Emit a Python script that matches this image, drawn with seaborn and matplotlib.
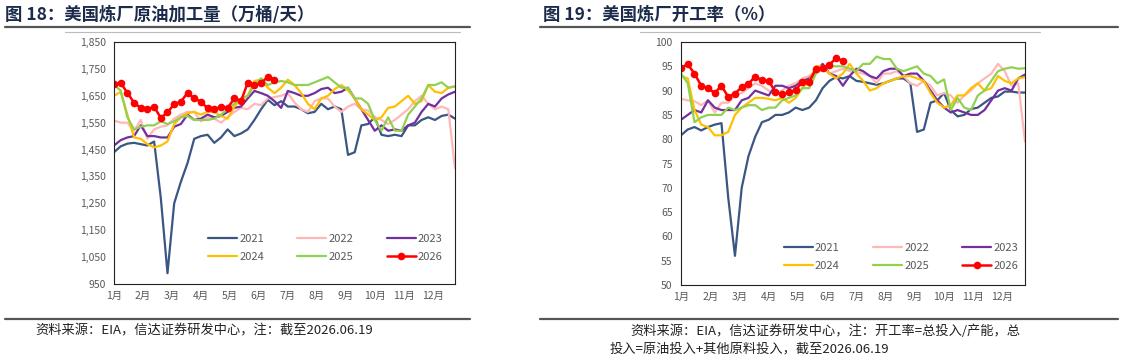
import matplotlib.pyplot as plt
import matplotlib.lines as mlines
import numpy as np
import pandas as pd
import seaborn as sns

# weekly data, week index 0..51
years = ["2021", "2022", "2023", "2024", "2025", "2026"]
colors = {"2021": "#3A5683", "2022": "#FFB7B7", "2023": "#7030A0",
          "2024": "#FFC000", "2025": "#92D050", "2026": "#FF0000"}
months = ["1月", "2月", "3月", "4月", "5月", "6月", "7月", "8月", "9月", "10月", "11月", "12月"]

# crude runs (10k bbl/d)
runs_2021 = [1440, 1462, 1472, 1475, 1470, 1465, 1480, 1270, 990, 1250, 1330, 1400, 1490, 1500, 1505, 1475, 1495, 1525,
             1500, 1510, 1525, 1560, 1600, 1635, 1615, 1630, 1610, 1610, 1600, 1585, 1590, 1620, 1600, 1610, 1600, 1430,
             1440, 1540, 1545, 1570, 1505, 1500, 1505, 1500, 1540, 1540, 1560, 1570, 1560, 1575, 1580, 1565]
runs_2022 = [1558, 1550, 1550, 1520, 1560, 1490, 1525, 1535, 1540, 1565, 1580, 1590, 1590, 1555, 1570, 1565, 1550, 1570,
             1590, 1605, 1600, 1620, 1615, 1640, 1645, 1650, 1660, 1625, 1600, 1590, 1630, 1640, 1640, 1610, 1590, 1610,
             1620, 1600, 1595, 1570, 1560, 1545, 1560, 1580, 1600, 1630, 1650, 1620, 1600, 1610, 1600, 1380]
runs_2023 = [1465, 1485, 1495, 1500, 1540, 1500, 1500, 1495, 1495, 1535, 1545, 1580, 1560, 1565, 1580, 1570, 1575, 1590,
             1605, 1610, 1640, 1668, 1660, 1650, 1630, 1605, 1668, 1660, 1650, 1650, 1660, 1675, 1680, 1660, 1665, 1680,
             1640, 1600, 1560, 1520, 1540, 1520, 1525, 1520, 1540, 1550, 1590, 1620, 1610, 1640, 1655, 1665]
runs_2024 = [1650, 1665, 1580, 1495, 1490, 1470, 1458, 1465, 1480, 1545, 1570, 1585, 1590, 1580, 1590, 1590, 1575, 1565,
             1610, 1635, 1650, 1705, 1710, 1680, 1660, 1680, 1710, 1690, 1660, 1620, 1600, 1640, 1650, 1675, 1690, 1670,
             1640, 1600, 1580, 1560, 1570, 1605, 1610, 1630, 1650, 1620, 1630, 1690, 1665, 1660, 1680, 1685]
runs_2025 = [1690, 1670, 1570, 1525, 1535, 1540, 1540, 1555, 1545, 1555, 1570, 1575, 1560, 1560, 1560, 1565, 1580, 1600,
             1620, 1640, 1650, 1690, 1715, 1690, 1700, 1705, 1700, 1690, 1690, 1690, 1700, 1710, 1720, 1700, 1680, 1680,
             1640, 1640, 1620, 1560, 1520, 1570, 1520, 1520, 1580, 1610, 1640, 1690, 1690, 1700, 1680, 1685]
runs_2026 = [1692, 1698, 1661, 1624, 1605, 1600, 1609, 1568, 1588, 1619, 1628, 1661, 1640, 1628, 1603, 1600, 1609, 1605,
             1640, 1631, 1698, 1689, 1698, 1720, 1710]

# utilization (%)
util_2021 = [80.8, 82, 82.5, 81.8, 82.5, 83, 83.3, 68, 56, 70, 76.5, 80.5, 83.5, 84, 85, 85, 85.5, 86.5, 86, 86.5, 88,
             90.5, 92, 92.8, 92.5, 93, 92, 91.8, 91.5, 91.2, 91.5, 92, 92.5, 92.5, 91.5, 81.5, 82, 87.5, 88, 89.5, 86,
             84.7, 85, 86.2, 86.5, 87.5, 88.5, 88.8, 89.8, 89.8, 89.6, 89.6]
util_2022 = [88.3, 88, 87.8, 87, 88, 85.5, 87.5, 87.5, 89, 89.5, 90.5, 91.5, 91, 90, 89.5, 90, 91, 91.5, 92.5, 93, 94,
             94.5, 93.5, 94, 94.5, 94, 93.8, 93.5, 93, 91.5, 93.5, 93.5, 94, 93, 91.5, 91, 92, 91, 89, 89.5, 89, 87.5,
             89, 90, 91.5, 92.5, 93.5, 95.5, 94, 91, 91.5, 79.5]
util_2023 = [84, 85, 86, 85.5, 88, 86.5, 86, 86, 86, 88, 88.5, 90, 89.5, 89, 91, 91, 90.5, 91, 92, 92.5, 94, 95.5, 93.5,
             93, 91, 93, 94.5, 94, 93, 92.5, 94, 94.5, 94.5, 93, 93.5, 93.5, 92, 90, 88, 86.5, 85.5, 86, 85.5, 85, 85,
             86, 88, 90, 90.5, 90, 92.5, 93.3]
util_2024 = [93, 92.5, 86, 83, 82.5, 80.8, 80.8, 81.5, 85, 86.5, 87.5, 88.5, 88.5, 88.3, 88, 88.5, 87.5, 88.5, 90.5, 92,
             95, 95, 93.5, 92.5, 93.5, 95.5, 93.5, 92, 90, 90.5, 91.5, 92, 92.5, 93, 93, 92.5, 92, 89.5, 87.5, 86.5, 87,
             89, 89, 90.5, 91.5, 90, 90.5, 93, 92, 91.5, 92.5, 92.8]
util_2025 = [93.5, 91.5, 83.5, 84.5, 85, 85, 85, 86.5, 86, 86.5, 87, 87, 86, 86.5, 86.5, 88, 88.5, 89, 90.5, 90.5, 93.5,
             94.5, 95, 95, 95, 94.5, 94, 95.5, 95.5, 97, 96.5, 96.5, 94.5, 94, 94.5, 95, 93.5, 93, 91.5, 92.3, 86, 88.5,
             86.5, 86, 89, 90, 92, 94, 94.5, 94.8, 94.5, 94.6]
util_2026 = [94.7, 95.4, 93.5, 91.0, 90.5, 89.5, 91.0, 88.7, 89.4, 90.7, 91.4, 92.9, 92.1, 92.0, 89.7, 89.2, 89.7, 90.1,
             91.8, 91.7, 94.5, 94.7, 95.3, 96.7, 96.1]

runs = dict(zip(years, [runs_2021, runs_2022, runs_2023, runs_2024, runs_2025, runs_2026]))
util = dict(zip(years, [util_2021, util_2022, util_2023, util_2024, util_2025, util_2026]))

sns.set_style("white")
plt.rcParams["font.family"] = ["Noto Sans CJK SC", "DejaVu Sans"]

W, H = 1122, 356
fig = plt.figure(figsize=(W / 100, H / 100), dpi=100)
navy = "#1C2B4B"
gray = "#595959"


def px_box(x0, y0, x1, y1):
    return [x0 / W, 1 - y1 / H, (x1 - x0) / W, (y1 - y0) / H]


def hline(x0, x1, y, lw, color):
    fig.add_artist(mlines.Line2D([x0 / W, x1 / W], [1 - y / H, 1 - y / H], lw=lw, color=color,
                                 transform=fig.transFigure))


def draw(ax, data, ylim, step, fmt, leg_anchor):
    for yr in years:
        vals = data[yr]
        df = pd.DataFrame({"week": np.arange(len(vals)), "value": vals})
        if yr == "2026":
            sns.lineplot(data=df, x="week", y="value", ax=ax, color=colors[yr], lw=1.8,
                         marker="o", markersize=5.5, markeredgewidth=0, label=yr)
        else:
            sns.lineplot(data=df, x="week", y="value", ax=ax, color=colors[yr], lw=1.6, label=yr)
    ax.set_xlim(0, 51)
    ax.set_ylim(*ylim)
    ax.set_yticks(np.arange(ylim[0], ylim[1] + 1, step))
    ax.set_yticklabels([fmt(v) for v in np.arange(ylim[0], ylim[1] + 1, step)])
    ax.set_xticks([m * 52 / 12 for m in range(12)])
    ax.set_xticklabels(months)
    ax.set_xlabel("")
    ax.set_ylabel("")
    ax.tick_params(axis="x", direction="in", length=5, width=0.8, color="#333333",
                   labelsize=7.5, labelcolor=gray, pad=5)
    ax.tick_params(axis="y", length=0, labelsize=7.5, labelcolor=gray, pad=6)
    for s in ax.spines.values():
        s.set_color("#222222")
        s.set_linewidth(0.8)
    handles, labels = ax.get_legend_handles_labels()
    order = [0, 3, 1, 4, 2, 5]
    ax.legend([handles[i] for i in order], [labels[i] for i in order], ncol=3, frameon=False,
              loc="center", bbox_to_anchor=leg_anchor, fontsize=8, labelcolor=gray,
              handlelength=2.6, handletextpad=0.2, columnspacing=3.0, labelspacing=0.7)


ax1 = fig.add_axes(px_box(114, 42, 455, 284))
draw(ax1, runs, (950, 1850), 100, lambda v: f"{v:,.0f}", (0.62, 0.15))
ax2 = fig.add_axes(px_box(681, 42, 1025, 285))
draw(ax2, util, (50, 100), 5, lambda v: f"{v:.0f}", (0.64, 0.115))

# titles and rules
fig.text(5 / W, 1 - 15 / H, "图 18：美国炼厂原油加工量（万桶/天）", fontsize=12.5, fontweight="bold",
         color=navy, va="center")
fig.text(543 / W, 1 - 15 / H, "图 19：美国炼厂开工率（%）", fontsize=12.5, fontweight="bold",
         color=navy, va="center")
hline(5, 470, 27, 1.6, "#555555")
hline(540, 1118, 27, 1.6, "#555555")
hline(65, 460, 32, 0.8, "#BBBBBB")
hline(640, 1040, 32, 0.8, "#BBBBBB")
hline(5, 470, 319, 1.6, "#555555")
hline(540, 1118, 319, 1.6, "#555555")

fig.text(35 / W, 1 - 331 / H, "资料来源：EIA，信达证券研发中心，注：截至2026.06.19", fontsize=9.5,
         color="#222222", va="center")
fig.text(630 / W, 1 - 331 / H, "资料来源：EIA，信达证券研发中心，注：开工率=总投入/产能，总", fontsize=9.5,
         color="#222222", va="center")
fig.text(610 / W, 1 - 349 / H, "投入=原油投入+其他原料投入，截至2026.06.19", fontsize=9.5,
         color="#222222", va="center")

fig.savefig("out.png", dpi=100)
